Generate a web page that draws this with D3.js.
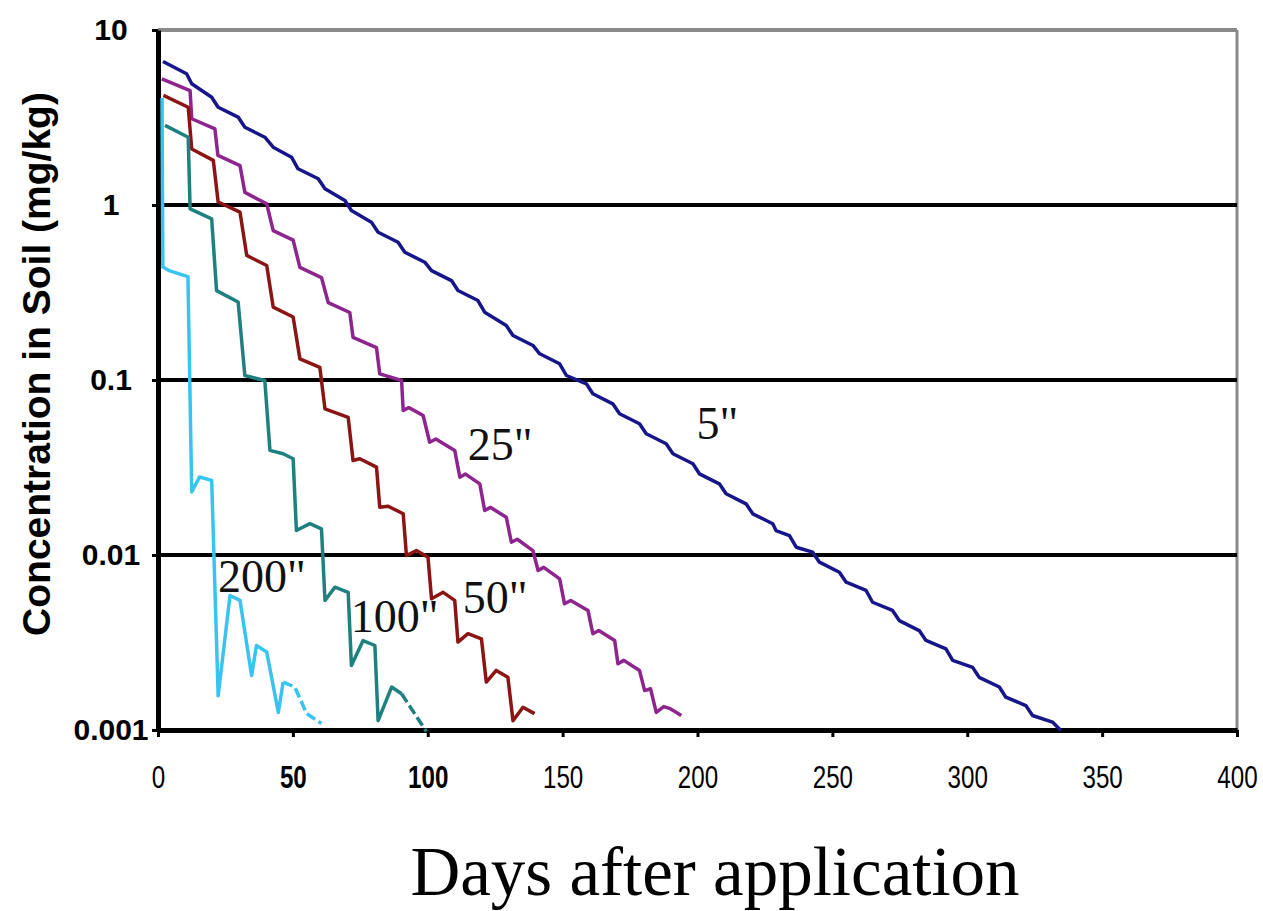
<!DOCTYPE html>
<html>
<head>
<meta charset="utf-8">
<script src="https://cdn.jsdelivr.net/npm/d3@7"></script>
<style>
  body { margin: 0; background: #fff; }
</style>
</head>
<body>
<div class="chart"></div>
<script>
// values: [day, concentration mg/kg]
var depth5 = [[1.85, 6.61], [10.6, 5.62], [12.5, 4.93], [19.9, 4.13], [22.3, 3.62], [29.7, 3.18],
  [32.2, 2.78], [39.6, 2.44], [42.7, 2.14], [49.5, 1.876], [51.9, 1.61], [59.4, 1.412],
  [61.9, 1.238], [69.3, 1.061], [71.7, 0.930], [79.1, 0.798], [81.6, 0.699], [89, 0.613],
  [91.5, 0.537], [98.9, 0.471], [101.4, 0.422], [108.8, 0.370], [111.2, 0.3247], [118.6, 0.2846],
  [121.1, 0.244], [129.1, 0.2048], [131.6, 0.1796], [139, 0.1575], [141.5, 0.1412], [148.9, 0.1238],
  [151.4, 0.1061], [158.8, 0.0951], [161.2, 0.0834], [168.6, 0.0731], [171.1, 0.0641], [178.5, 0.0562],
  [181, 0.0493], [188.4, 0.0432], [190.9, 0.0379], [198.3, 0.0332], [200.7, 0.0291], [208.1, 0.0255],
  [210.6, 0.02237], [218, 0.0196], [220.5, 0.01719], [227.9, 0.01508], [229.1, 0.0138], [234.1, 0.01292],
  [236.6, 0.01108], [242.7, 0.01038], [245.2, 0.0091], [252.6, 0.00797], [255.1, 0.00699], [262.5, 0.00627],
  [264.9, 0.00537], [272.3, 0.00482], [274.8, 0.00422], [282.2, 0.0037], [284.7, 0.00325], [292.1, 0.00291],
  [294.6, 0.0025], [302, 0.00228], [304.4, 0.002], [311.9, 0.00176], [314.3, 0.00154], [321.7, 0.00138],
  [324.2, 0.00121], [331.6, 0.00111], [334.8, 0.00099]];

var depth25 = [[1.4, 5.26], [11.9, 4.5], [12.5, 3.11], [21.1, 2.72], [22.2, 1.92], [30.4, 1.68],
  [32.2, 1.18], [40.3, 1.016], [42.7, 0.714], [50.1, 0.63], [52.6, 0.44], [60.6, 0.385],
  [63.1, 0.277], [71.1, 0.243], [72.3, 0.175], [81, 0.153], [82.2, 0.1085], [90.3, 0.0993],
  [90.9, 0.067], [93, 0.0695], [98.3, 0.0627], [100.7, 0.0441], [103, 0.046], [110, 0.0396],
  [111.9, 0.0278], [114, 0.029], [119.3, 0.0255], [121.1, 0.01796], [123.3, 0.0187], [129.1, 0.01644],
  [131, 0.01183], [133.2, 0.0123], [139, 0.0106], [140.9, 0.00815], [143, 0.0085], [148.9, 0.00731],
  [150.7, 0.00526], [153, 0.0055], [159.4, 0.00482], [161.2, 0.00355], [163.4, 0.0037], [169.3, 0.00325],
  [170.5, 0.00239], [172.7, 0.0025], [178.5, 0.00219], [180.4, 0.00168], [182.6, 0.00172], [184.7, 0.00126],
  [187.5, 0.00136], [189.6, 0.00133], [194, 0.00121]];

var depth50 = [[2.0, 4.23], [11.2, 3.62], [12.5, 2.09], [20.5, 1.80], [22.3, 1.04], [30.4, 0.91],
  [32.9, 0.515], [40.3, 0.451], [42.7, 0.261], [50.1, 0.229], [52.6, 0.132], [60, 0.118],
  [61.9, 0.0684], [70.5, 0.0612], [72.3, 0.0347], [74.8, 0.0355], [81, 0.0318], [82.2, 0.01875],
  [85.3, 0.0190], [90.9, 0.0172], [92.1, 0.00993], [95.8, 0.0106], [100.1, 0.0097], [101.4, 0.00562],
  [105.7, 0.00612], [110, 0.0055], [111.2, 0.00318], [114.9, 0.00355], [119.9, 0.00332], [121.7, 0.00188],
  [125.4, 0.00219], [129.7, 0.0020], [131.6, 0.00113], [135.3, 0.00135], [139.6, 0.00124]];

var depth100 = [[2.6, 2.85], [11.2, 2.44], [11.9, 0.951], [19.9, 0.834], [21.7, 0.324], [29.7, 0.279],
  [32.2, 0.106], [39.6, 0.0993], [41.5, 0.0396], [46.4, 0.0379], [50.1, 0.0355], [51.3, 0.0138],
  [56.3, 0.0151], [60.6, 0.0141], [61.9, 0.0055], [65.6, 0.00655], [70.5, 0.00612], [71.7, 0.00234],
  [76, 0.00324], [80.4, 0.00304], [81.6, 0.00113], [86.6, 0.00176], [90.3, 0.00161], [99.5, 0.00098]];

var depth200 = [[1.5, 4.09], [1.8, 0.442], [4.4, 0.42], [11.1, 0.39], [12.5, 0.0229], [15.4, 0.0279],
  [19.9, 0.0267], [22.3, 0.00157], [26.7, 0.00587], [30.4, 0.0055], [34.7, 0.00205], [36.5, 0.00304],
  [40.3, 0.00279], [44.6, 0.00126], [46.4, 0.00188], [50.7, 0.00176], [55.1, 0.00124], [60.6, 0.00109]];

var seriesNames = ['5"', '25"', '50"', '100"', '200"'];
var seriesData = [depth5, depth25, depth50, depth100, depth200];

var xTicks = [0, 50, 100, 150, 200, 250, 300, 350, 400];
var xBoldTicks = [50, 100];
var yTicks = [0.001, 0.01, 0.1, 1, 10];
var yTickLabels = ["0.001", "0.01", "0.1", "1", "10"];
var gridValues = [0.01, 0.1, 1];

// styling / placement
var colors = ["#16168a", "#8e248e", "#8b1515", "#1f8080", "#38c4ee"];
var dashFrom = [null, null, null, 90.3, 46.4];
// label anchors in data units (day, concentration)
var labelAnchors = [[199.6, 0.0463], [114.8, 0.0347], [113, 0.00469], [71.5, 0.00361], [22.2, 0.00611]];

var svgWidth = 1263;
var svgHeight = 911;
var margin = { top: 30, left: 158 };
var width = 1079;
var height = 700;

var svg = d3.select(".chart")
  .append("svg")
  .attr("width", svgWidth)
  .attr("height", svgHeight);

var chartGroup = svg.append("g")
  .attr("transform", `translate(${margin.left}, ${margin.top})`);

var xScale = d3.scaleLinear().domain([0, 400]).range([0, width]);
var yScale = d3.scaleLog().domain([0.001, 10]).range([height, 0]);

// frame: grey top and right
chartGroup.append("line")
  .attr("x1", 0).attr("x2", width)
  .attr("y1", yScale(10)).attr("y2", yScale(10))
  .attr("stroke", "#8a8a8a").attr("stroke-width", 4);
chartGroup.append("line")
  .attr("x1", width).attr("x2", width)
  .attr("y1", 0).attr("y2", height)
  .attr("stroke", "#8a8a8a").attr("stroke-width", 3);

// black gridlines
chartGroup.selectAll(".grid")
  .data(gridValues)
  .enter()
  .append("line")
  .attr("class", "grid")
  .attr("x1", 0).attr("x2", width)
  .attr("y1", d => yScale(d)).attr("y2", d => yScale(d))
  .attr("stroke", "#000").attr("stroke-width", 4);

// axes
var xAxis = d3.axisBottom(xScale)
  .tickValues(xTicks)
  .tickSize(7)
  .tickSizeOuter(0)
  .tickPadding(29)
  .tickFormat(d3.format("d"));

var yAxis = d3.axisLeft(yScale)
  .tickValues(yTicks)
  .tickSize(6)
  .tickSizeOuter(0)
  .tickFormat((d, i) => yTickLabels[i]);

var xg = chartGroup.append("g")
  .attr("transform", `translate(0, ${height})`)
  .call(xAxis);
xg.select(".domain").attr("stroke", "#000").attr("stroke-width", 5);
xg.selectAll(".tick line").attr("stroke", "#000").attr("stroke-width", 3);
xg.selectAll(".tick text")
  .attr("fill", "#000")
  .style("font-family", "'Liberation Sans', Arial, sans-serif")
  .style("font-size", "31px")
  .style("font-weight", d => xBoldTicks.indexOf(d) >= 0 ? "bold" : "normal")
  .attr("transform", "scale(0.78,1)");

var yg = chartGroup.append("g")
  .call(yAxis);
yg.select(".domain").attr("stroke", "#000").attr("stroke-width", 5);
yg.selectAll(".tick line").attr("stroke", "#000").attr("stroke-width", 3);
yg.selectAll(".tick text")
  .attr("fill", "#000")
  .attr("x", -47)
  .attr("text-anchor", "middle")
  .style("font-family", "'Liberation Sans', Arial, sans-serif")
  .style("font-size", "30px")
  .style("font-weight", "bold");

// series lines
var line = d3.line()
  .x(d => xScale(d[0]))
  .y(d => yScale(d[1]));

seriesData.forEach(function(data, i) {
  var cut = dashFrom[i];
  var solid = cut === null ? data : data.filter(d => d[0] <= cut);
  chartGroup.append("path")
    .datum(solid)
    .attr("d", line)
    .attr("fill", "none")
    .attr("stroke", colors[i])
    .attr("stroke-width", 3.5)
    .attr("stroke-linejoin", "round");
  if (cut !== null) {
    chartGroup.append("path")
      .datum(data.filter(d => d[0] >= cut))
      .attr("d", line)
      .attr("fill", "none")
      .attr("stroke", colors[i])
      .attr("stroke-width", 3.5)
      .attr("stroke-dasharray", "10,4");
  }
});

// series labels
chartGroup.selectAll(".series-label")
  .data(seriesNames)
  .enter()
  .append("text")
  .attr("class", "series-label")
  .attr("x", (d, i) => xScale(labelAnchors[i][0]))
  .attr("y", (d, i) => yScale(labelAnchors[i][1]))
  .style("font-family", "'Liberation Serif', 'Times New Roman', serif")
  .style("font-size", "46px")
  .attr("fill", "#111")
  .text(d => d);

// axis titles
svg.append("text")
  .attr("x", 715)
  .attr("y", 895)
  .attr("text-anchor", "middle")
  .style("font-family", "'Liberation Serif', 'Times New Roman', serif")
  .style("font-size", "69px")
  .attr("fill", "#000")
  .text("Days after application");

svg.append("text")
  .attr("transform", "translate(50, 364) rotate(-90)")
  .attr("text-anchor", "middle")
  .style("font-family", "'Liberation Sans', Arial, sans-serif")
  .style("font-size", "39px")
  .style("font-weight", "bold")
  .attr("fill", "#000")
  .text("Concentration in Soil (mg/kg)");
</script>
</body>
</html>
